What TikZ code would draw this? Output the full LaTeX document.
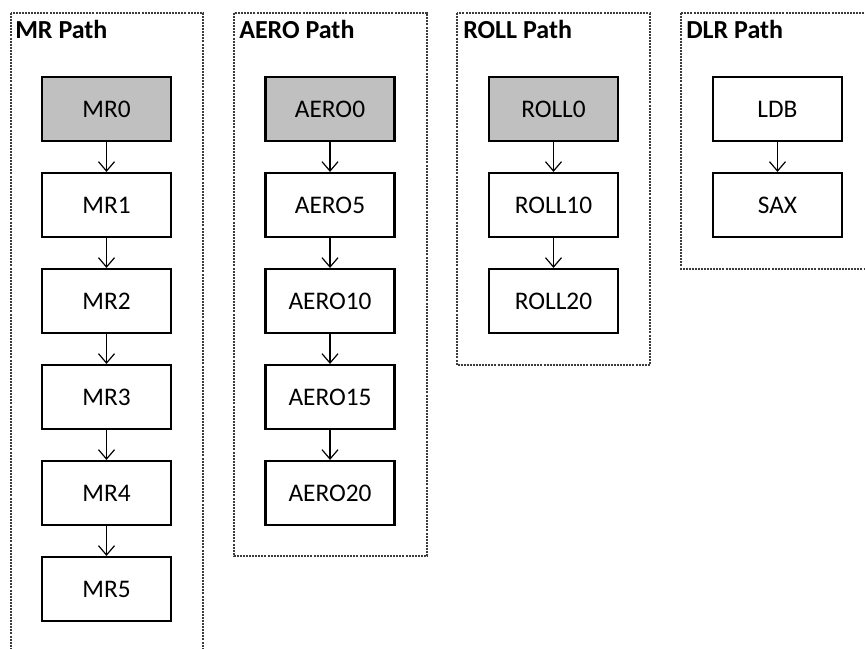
\documentclass[tikz,border=0pt]{standalone}
\usepackage{fontspec}
\setmainfont{Carlito}
\usetikzlibrary{arrows.meta}
\definecolor{mygray}{RGB}{192,192,192}
\definecolor{myframe}{RGB}{60,60,60}

\tikzset{
    stage/.style={draw, line width=1.6pt, minimum width=96.75pt, minimum height=48pt,
        inner sep=0pt, font=\fontsize{19}{21}\selectfont},
    start/.style={stage, fill=mygray},
    pathframe/.style={draw=myframe, line width=0.9pt, dash pattern=on 1.5pt off 0.8pt},
    pathtitle/.style={anchor=base west, inner sep=0pt, font=\fontsize{19.5}{21}\selectfont\bfseries},
    link/.style={line width=0.9pt, -{Straight Barb[length=7pt, width=12pt]}}
}

\begin{document}
\begin{tikzpicture}[x=0.75pt, y=-0.75pt]
    \useasboundingbox (0, 0) rectangle (865, 649);
    \clip (0, 0) rectangle (865, 649);
    \begin{scope}
        % MR path
        \draw[pathframe] (11, 13) rectangle (203, 680);
        \node[pathtitle] (mrtitle) at (15, 39) {MR Path};
        \node[start] (mr0) at (106.5, 109) {MR0};
        \node[stage] (mr1) at (106.5, 205) {MR1};
        \node[stage] (mr2) at (106.5, 301) {MR2};
        \node[stage] (mr3) at (106.5, 397) {MR3};
        \node[stage] (mr4) at (106.5, 493) {MR4};
        \node[stage] (mr5) at (106.5, 589) {MR5};
        \draw[link] (mr0) -- (mr1);
        \draw[link] (mr1) -- (mr2);
        \draw[link] (mr2) -- (mr3);
        \draw[link] (mr3) -- (mr4);
        \draw[link] (mr4) -- (mr5);
    \end{scope}
    \begin{scope}
        % AERO path
        \draw[pathframe] (234, 13) rectangle (427, 556);
        \node[pathtitle] (aerotitle) at (239, 39) {AERO Path};
        \node[start] (aero0) at (330, 109) {AERO0};
        \node[stage] (aero5) at (330, 205) {AERO5};
        \node[stage] (aero10) at (330, 301) {AERO10};
        \node[stage] (aero15) at (330, 397) {AERO15};
        \node[stage] (aero20) at (330, 493) {AERO20};
        \draw[link] (aero0) -- (aero5);
        \draw[link] (aero5) -- (aero10);
        \draw[link] (aero10) -- (aero15);
        \draw[link] (aero15) -- (aero20);
    \end{scope}
    \begin{scope}
        % ROLL path
        \draw[pathframe] (457, 13) rectangle (650, 365);
        \node[pathtitle] (rolltitle) at (463, 39) {ROLL Path};
        \node[start] (roll0) at (553.5, 109) {ROLL0};
        \node[stage] (roll10) at (553.5, 205) {ROLL10};
        \node[stage] (roll20) at (553.5, 301) {ROLL20};
        \draw[link] (roll0) -- (roll10);
        \draw[link] (roll10) -- (roll20);
    \end{scope}
    \begin{scope}
        % DLR path
        \draw[pathframe] (681, 13) rectangle (880, 269);
        \node[pathtitle] (dlrtitle) at (686, 39) {DLR Path};
        \node[stage] (ldb) at (777.5, 109) {LDB};
        \node[stage] (sax) at (777.5, 205) {SAX};
        \draw[link] (ldb) -- (sax);
    \end{scope}
\end{tikzpicture}
\end{document}
